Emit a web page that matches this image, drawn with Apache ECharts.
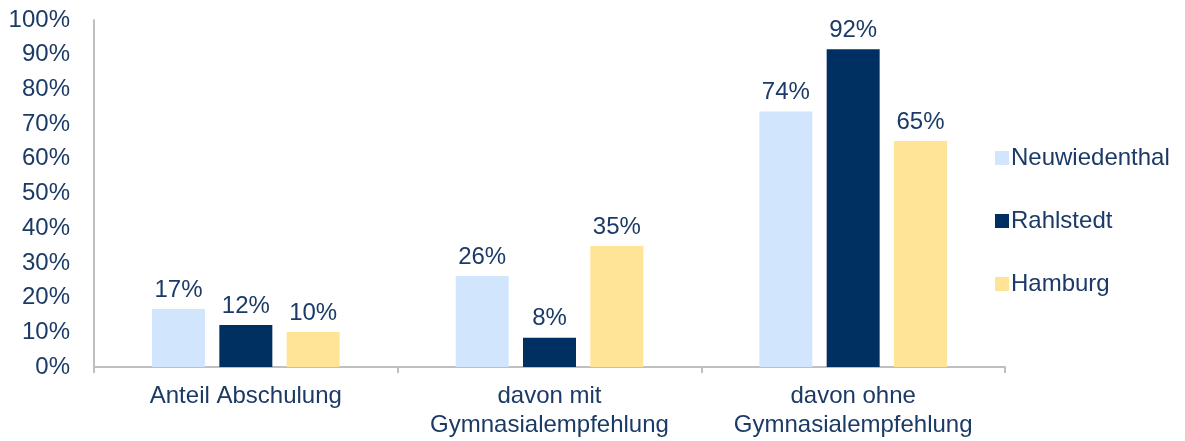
<!DOCTYPE html>
<html>
<head>
<meta charset="utf-8">
<script src="https://cdn.jsdelivr.net/npm/echarts@6/dist/echarts.min.js"></script>
<style>
  html, body { margin: 0; padding: 0; background: #fff; }
  #main { width: 1185px; height: 441px; }
</style>
</head>
<body>
<div id="main"></div>
<script>
var categories = ['Anteil Abschulung', 'davon mit\nGymnasialempfehlung', 'davon ohne\nGymnasialempfehlung'];
var neuwiedenthal = [16.7, 26.2, 73.6];
var rahlstedt = [12.1, 8.4, 91.6];
var hamburg = [10.1, 34.9, 65.1];
var seriesNames = ['Neuwiedenthal', 'Rahlstedt', 'Hamburg'];
var colors = ['#D1E6FC', '#002F62', '#FFE497'];

var textColor = '#1B3A66';
var fontFam = '"Liberation Sans", Arial, sans-serif';

var chartDom = document.getElementById('main');
var myChart = echarts.init(chartDom);

function makeSeries(name, data, color) {
    return {
        name: name,
        type: 'bar',
        data: data,
        barWidth: 53,
        barGap: '27%',
        itemStyle: { color: color },
        label: {
            show: true,
            position: 'top',
            distance: 7,
            color: textColor,
            fontFamily: fontFam,
            fontSize: 24,
            formatter: function (p) { return Math.round(p.value) + '%'; }
        }
    };
}

var option = {
    animation: false,
    color: colors,
    grid: { left: 94, right: 180, top: 20, bottom: 74 },
    legend: {
        orient: 'vertical',
        left: 990,
        top: 139,
        itemWidth: 14,
        itemHeight: 14,
        itemGap: 35,
        icon: 'rect',
        textStyle: { color: textColor, fontSize: 24, fontFamily: fontFam, padding: [0, 0, 0, -3], lineHeight: 28 },
        data: seriesNames
    },
    xAxis: {
        type: 'category',
        data: categories,
        axisLine: { lineStyle: { color: '#BFBFBF', width: 2 } },
        axisTick: { show: true, length: 6, lineStyle: { color: '#BFBFBF', width: 2 } },
        axisLabel: { color: textColor, fontSize: 24, fontFamily: fontFam, margin: 15, lineHeight: 29, interval: 0 }
    },
    yAxis: {
        type: 'value',
        min: 0,
        max: 100,
        interval: 10,
        splitLine: { show: false },
        axisLine: { show: true, lineStyle: { color: '#BFBFBF', width: 2 } },
        axisTick: { show: false },
        axisLabel: {
            color: textColor, fontSize: 24, fontFamily: fontFam, margin: 24,
            formatter: '{value}%'
        }
    },
    series: [
        makeSeries(seriesNames[0], neuwiedenthal, colors[0]),
        makeSeries(seriesNames[1], rahlstedt, colors[1]),
        makeSeries(seriesNames[2], hamburg, colors[2])
    ]
};

option && myChart.setOption(option);
</script>
</body>
</html>
